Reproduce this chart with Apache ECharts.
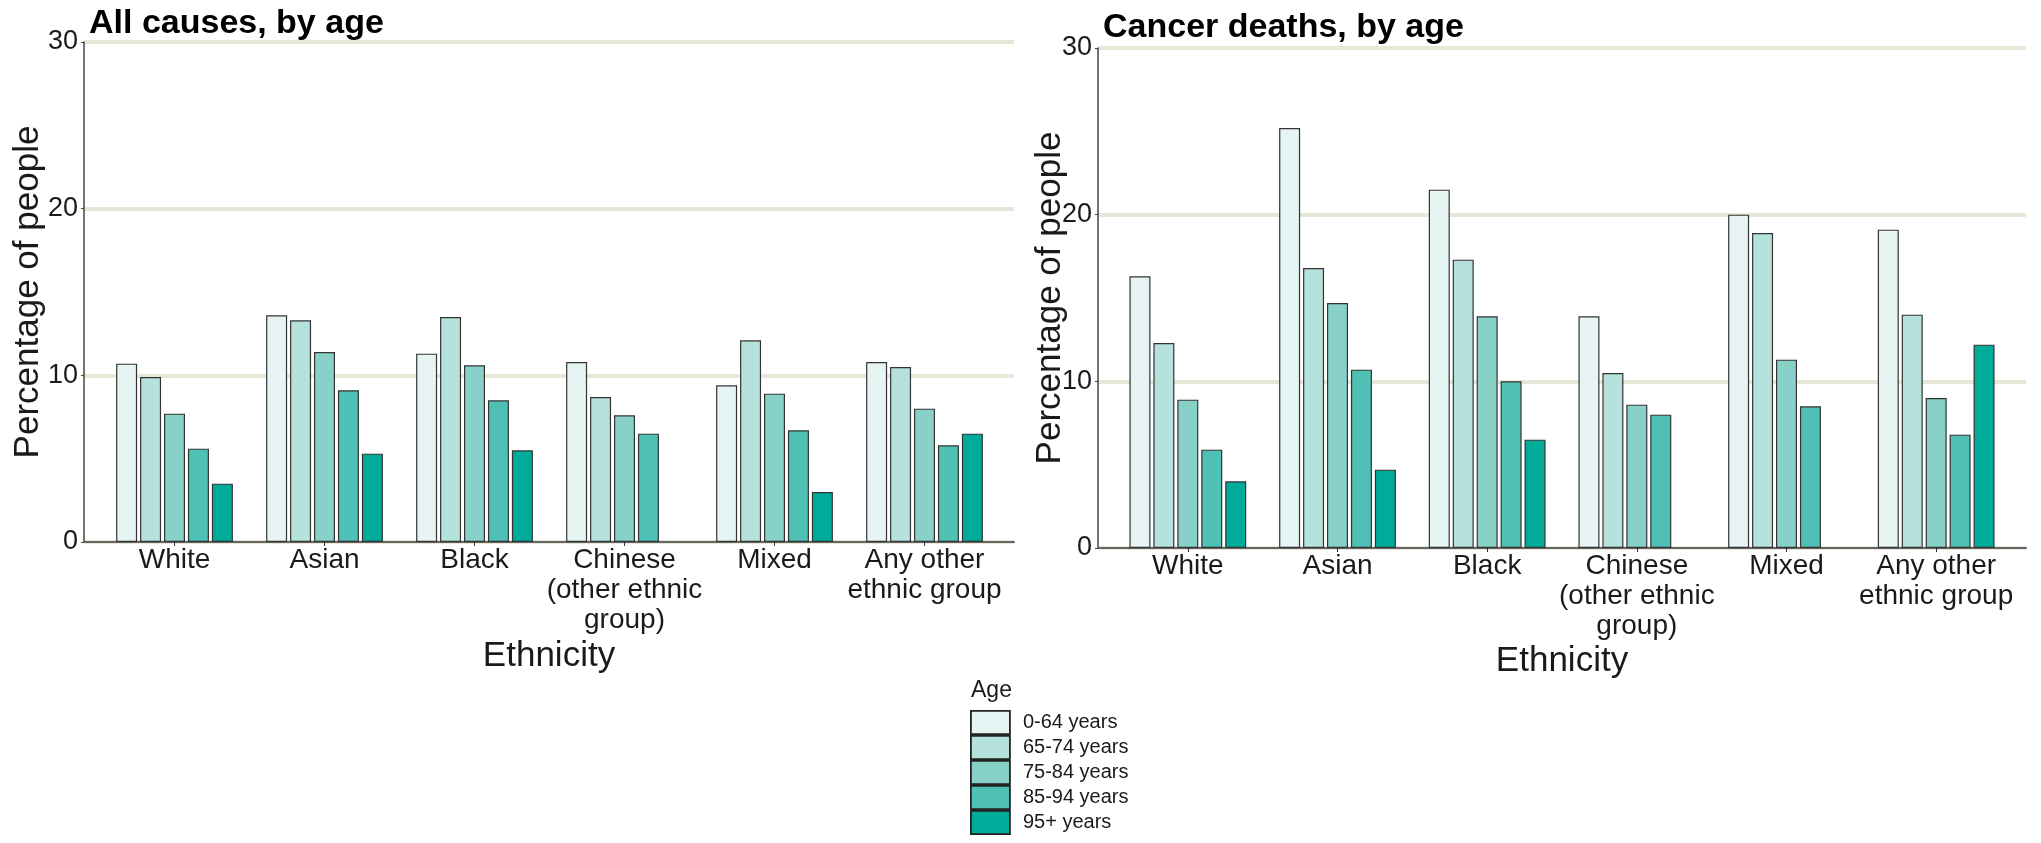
<!DOCTYPE html>
<html>
<head>
<meta charset="utf-8">
<title>Deaths by ethnicity and age</title>
<script src="https://cdn.jsdelivr.net/npm/echarts@6/dist/echarts.min.js"></script>
<style>
  html, body { margin: 0; padding: 0; background: #ffffff; }
  #chart { width: 2041px; height: 843px; }
</style>
</head>
<body>
<div id="chart"></div>
<script>
// Ethnic groups on the x axis
const categories = ['White', 'Asian', 'Black', 'Chinese\n(other ethnic\ngroup)', 'Mixed', 'Any other\nethnic group'];
// Age bands, one bar series each
const ageGroups = ['0-64 years', '65-74 years', '75-84 years', '85-94 years', '95+ years'];
const ageColors = ['#E6F4F3', '#B6E2DE', '#88D1C9', '#4FC1B4', '#00AB9A'];
const yTicks = [0, 10, 20, 30];

// All causes: percentage of people, by ethnicity, per age band
const allCauses0to64 = [10.7, 13.6, 11.3, 10.8, 9.4, 10.8];
const allCauses65to74 = [9.9, 13.3, 13.5, 8.7, 12.1, 10.5];
const allCauses75to84 = [7.7, 11.4, 10.6, 7.6, 8.9, 8.0];
const allCauses85to94 = [5.6, 9.1, 8.5, 6.5, 6.7, 5.8];
const allCauses95plus = [3.5, 5.3, 5.5, null, 3.0, 6.5];

// Cancer deaths: percentage of people, by ethnicity, per age band
const cancer0to64 = [16.3, 25.2, 21.5, 13.9, 20.0, 19.1];
const cancer65to74 = [12.3, 16.8, 17.3, 10.5, 18.9, 14.0];
const cancer75to84 = [8.9, 14.7, 13.9, 8.6, 11.3, 9.0];
const cancer85to94 = [5.9, 10.7, 10.0, 8.0, 8.5, 6.8];
const cancer95plus = [4.0, 4.7, 6.5, null, null, 12.2];

const allCausesSeries = [allCauses0to64, allCauses65to74, allCauses75to84, allCauses85to94, allCauses95plus];
const cancerSeries = [cancer0to64, cancer65to74, cancer75to84, cancer85to94, cancer95plus];

const FONT = '"Liberation Sans", Arial, Helvetica, sans-serif';
const TEXT = '#1a1a1a';
const GRID_LINE = '#E7E7D8';

const chart = echarts.init(document.getElementById('chart'), null, { renderer: 'canvas' });

// Each panel uses two grids: a wider "frame" grid that carries the axis lines,
// gridlines and axis titles, and an inner grid holding the bars and category labels
// (this reproduces the padded discrete axis).
function panelAxes(frameIdx, barsIdx, yNameGap, xNameGap) {
  const xFrame = {
    gridIndex: frameIdx, type: 'category', data: categories,
    axisLine: { show: true, lineStyle: { color: '#666', width: 2 } },
    axisTick: { show: false }, axisLabel: { show: false },
    name: 'Ethnicity', nameLocation: 'middle', nameGap: xNameGap,
    nameTextStyle: { fontFamily: FONT, fontSize: 35, color: TEXT }
  };
  const xBars = {
    gridIndex: barsIdx, type: 'category', data: categories,
    axisLine: { show: false },
    axisTick: { show: true, alignWithLabel: true, length: 4, lineStyle: { color: '#333', width: 1 } },
    axisLabel: { fontFamily: FONT, fontSize: 28, color: TEXT, lineHeight: 30, margin: 3, interval: 0 }
  };
  const yFrame = {
    gridIndex: frameIdx, type: 'value', min: yTicks[0], max: yTicks[yTicks.length - 1], interval: 10,
    axisLine: { show: true, lineStyle: { color: '#444', width: 1.5 } },
    axisTick: { show: true, length: 3, lineStyle: { color: '#444', width: 1 } },
    axisLabel: { fontFamily: FONT, fontSize: 27, color: TEXT, margin: 6 },
    splitLine: { show: true, lineStyle: { color: GRID_LINE, width: 4 } },
    name: 'Percentage of people', nameLocation: 'middle', nameGap: yNameGap, nameRotate: 90,
    nameMoveOverlap: false,
    nameTextStyle: { fontFamily: FONT, fontSize: 35, color: TEXT }
  };
  const yBars = {
    gridIndex: barsIdx, type: 'value', min: yTicks[0], max: yTicks[yTicks.length - 1], interval: 10,
    show: false, splitLine: { show: false }
  };
  return { xFrame, xBars, yFrame, yBars };
}

const left = panelAxes(0, 1, 38, 97);
const right = panelAxes(2, 3, 30, 96);

function barSeries(valuesList, axisIdx) {
  return valuesList.map((values, i) => ({
    type: 'bar',
    name: ageGroups[i],
    xAxisIndex: axisIdx, yAxisIndex: axisIdx,
    data: values,
    barWidth: 21,
    barGap: '14%',
    itemStyle: { color: ageColors[i], borderColor: '#333', borderWidth: 1.2 },
    emphasis: { disabled: true },
    animation: false
  }));
}

const option = {
  backgroundColor: '#ffffff',
  animation: false,
  title: [
    { text: 'All causes, by age', left: 84, top: 2,
      textStyle: { fontFamily: FONT, fontSize: 34, fontWeight: 'bold', color: '#000' } },
    { text: 'Cancer deaths, by age', left: 1098, top: 6,
      textStyle: { fontFamily: FONT, fontSize: 34, fontWeight: 'bold', color: '#000' } },
    { text: 'Age', left: 966, top: 674,
      textStyle: { fontFamily: FONT, fontSize: 23, fontWeight: 'normal', color: TEXT } }
  ],
  legend: {
    data: ageGroups,
    orient: 'vertical',
    left: 970, top: 710, height: 140,
    padding: 0,
    itemWidth: 39, itemHeight: 23.2, itemGap: 0,
    icon: 'rect',
    selectedMode: false,
    itemStyle: { borderColor: '#222', borderWidth: 1.8 },
    textStyle: { fontFamily: FONT, fontSize: 20, color: TEXT, padding: [0, 0, 0, 8], lineHeight: 20 }
  },
  grid: [
    { left: 84, top: 42, width: 930, height: 500 },
    { left: 99.5, top: 42, width: 900, height: 500 },
    { left: 1098, top: 48, width: 928, height: 500 },
    { left: 1113, top: 48, width: 898, height: 500 }
  ],
  xAxis: [left.xFrame, left.xBars, right.xFrame, right.xBars],
  yAxis: [left.yFrame, left.yBars, right.yFrame, right.yBars],
  series: [].concat(barSeries(allCausesSeries, 1), barSeries(cancerSeries, 3))
};

chart.setOption(option);
</script>
</body>
</html>
